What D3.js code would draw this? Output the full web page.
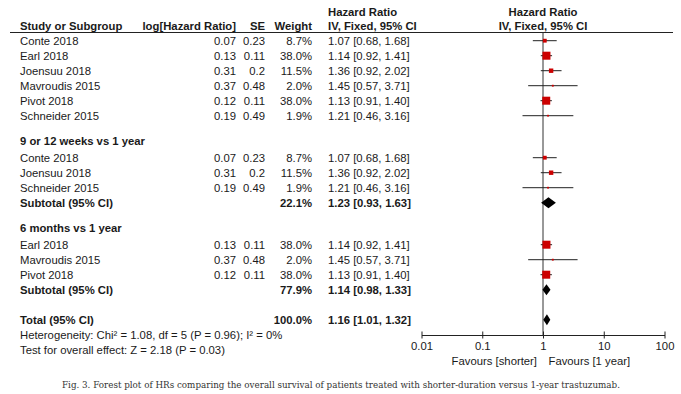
<!DOCTYPE html>
<html>
<head>
<meta charset="utf-8">
<script src="https://cdn.jsdelivr.net/npm/d3@7"></script>
<style>
  body { margin: 0; background: #fff; }
  svg { display: block; }
  text { font-family: "Liberation Sans", Arial, sans-serif; font-size: 11.3px; fill: #1a1a1a; }
  .bold { font-weight: bold; }
  .caption { font-family: "DejaVu Serif", "Liberation Serif", serif; font-size: 9.2px; fill: #333; }
</style>
</head>
<body>
<svg id="chart"></svg>
<script>
const width = 681, height = 394

// study level data
const studies = ["Conte 2018", "Earl 2018", "Joensuu 2018", "Mavroudis 2015", "Pivot 2018", "Schneider 2015"]
const logHR = [0.07, 0.13, 0.31, 0.37, 0.12, 0.19]
const se = [0.23, 0.11, 0.2, 0.48, 0.11, 0.49]
const weights = [8.7, 38.0, 11.5, 2.0, 38.0, 1.9]
const hr = [1.07, 1.14, 1.36, 1.45, 1.13, 1.21]
const lower = [0.68, 0.92, 0.92, 0.57, 0.91, 0.46]
const upper = [1.68, 1.41, 2.02, 3.71, 1.40, 3.16]

// subgroups
const subgroupNames = ["9 or 12 weeks vs 1 year", "6 months vs 1 year"]
const subgroupMembers = [[0, 2, 5], [1, 3, 4]]
const subWeight = [22.1, 77.9]
const subHR = [1.23, 1.14]
const subLower = [0.93, 0.98]
const subUpper = [1.63, 1.33]

// overall
const totalWeight = 100.0, totalHR = 1.16, totalLower = 1.01, totalUpper = 1.32
const heterogeneity = "Heterogeneity: Chi² = 1.08, df = 5 (P = 0.96); I² = 0%"
const overallTest = "Test for overall effect: Z = 2.18 (P = 0.03)"

const axisTicks = [0.01, 0.1, 1, 10, 100]
const favours = ["Favours [shorter]", "Favours [1 year]"]
const caption = "Fig. 3. Forest plot of HRs comparing the overall survival of patients treated with shorter-duration versus 1-year trastuzumab."

// layout
const col = {study: 20, logHR: 236, se: 265, weight: 312, hr: 328}
const rowStep = 15, headGapBefore = 25, headGapAfter = 17, totalGap = 30
const firstRowY = 40.7, headerLineY = 32.5, axisY = 335
const captionWidth = 557
const red = '#cc0000'

const x = d3.scaleLog().domain([0.01, 100]).range([421.5, 664.5])
const boxSize = d3.scaleSqrt().domain([0, 38]).range([0, 8])
const fmt2 = d3.format('.2f'), fmtW = d3.format('.1f')
const ciText = (m, l, u) => `${fmt2(m)} [${fmt2(l)}, ${fmt2(u)}]`

// build the row list
const rows = []
let cy = firstRowY
studies.forEach((s, i) => {
  rows.push({type: 'study', i: i, y: cy})
  cy += rowStep
})
cy -= rowStep
subgroupNames.forEach((name, g) => {
  cy += headGapBefore
  rows.push({type: 'heading', name: name, y: cy})
  cy += headGapAfter
  subgroupMembers[g].forEach(i => {
    rows.push({type: 'study', i: i, y: cy})
    cy += rowStep
  })
  rows.push({type: 'subtotal', g: g, y: cy})
})
cy += totalGap
rows.push({type: 'total', y: cy})

const svg = d3.select('#chart').attr('width', width).attr('height', height)

// header
const header = svg.append('g')
header.append('text').attr('class', 'bold').attr('x', col.hr).attr('y', 16).text('Hazard Ratio')
header.append('text').attr('class', 'bold').attr('x', x(1)).attr('y', 16).attr('text-anchor', 'middle').text('Hazard Ratio')
const h2 = [
  {t: 'Study or Subgroup', x: col.study, a: 'start'},
  {t: 'log[Hazard Ratio]', x: col.logHR, a: 'end'},
  {t: 'SE', x: col.se, a: 'end'},
  {t: 'Weight', x: col.weight, a: 'end'},
  {t: 'IV, Fixed, 95% CI', x: col.hr, a: 'start'},
  {t: 'IV, Fixed, 95% CI', x: x(1), a: 'middle'}
]
header.selectAll('.h2').data(h2).enter().append('text')
  .attr('class', 'bold h2')
  .attr('x', d => d.x).attr('y', 30)
  .attr('text-anchor', d => d.a)
  .text(d => d.t)
header.append('line')
  .attr('x1', 10).attr('x2', 673)
  .attr('y1', headerLineY).attr('y2', headerLineY)
  .attr('stroke', '#222').attr('stroke-width', 1)

// null line
svg.append('line')
  .attr('x1', x(1)).attr('x2', x(1))
  .attr('y1', headerLineY).attr('y2', axisY)
  .attr('stroke', '#333').attr('stroke-width', 1)

// text table
const table = svg.append('g')
rows.forEach(r => {
  const ty = r.y + 4
  const add = (t, xx, anchor, bold) => table.append('text')
    .attr('x', xx).attr('y', ty)
    .attr('text-anchor', anchor)
    .attr('class', bold ? 'bold' : null)
    .text(t)
  if (r.type === 'study') {
    add(studies[r.i], col.study, 'start')
    add(logHR[r.i], col.logHR, 'end')
    add(se[r.i], col.se, 'end')
    add(fmtW(weights[r.i]) + '%', col.weight, 'end')
    add(ciText(hr[r.i], lower[r.i], upper[r.i]), col.hr, 'start')
  } else if (r.type === 'heading') {
    add(r.name, col.study, 'start', true)
  } else if (r.type === 'subtotal') {
    add('Subtotal (95% CI)', col.study, 'start', true)
    add(fmtW(subWeight[r.g]) + '%', col.weight, 'end', true)
    add(ciText(subHR[r.g], subLower[r.g], subUpper[r.g]), col.hr, 'start', true)
  } else {
    add('Total (95% CI)', col.study, 'start', true)
    add(fmtW(totalWeight) + '%', col.weight, 'end', true)
    add(ciText(totalHR, totalLower, totalUpper), col.hr, 'start', true)
    table.append('text').attr('x', col.study).attr('y', ty + 15).text(heterogeneity)
    table.append('text').attr('x', col.study).attr('y', ty + 30).text(overallTest)
  }
})

// study markers
const studyRows = rows.filter(r => r.type === 'study')
const marks = svg.append('g')
marks.selectAll('.ci').data(studyRows).enter().append('line')
  .attr('class', 'ci')
  .attr('x1', d => x(lower[d.i])).attr('x2', d => x(upper[d.i]))
  .attr('y1', d => d.y).attr('y2', d => d.y)
  .attr('stroke', '#222').attr('stroke-width', 1)
marks.selectAll('.box').data(studyRows).enter().append('rect')
  .attr('class', 'box')
  .attr('x', d => x(hr[d.i]) - boxSize(weights[d.i]) / 2)
  .attr('y', d => d.y - boxSize(weights[d.i]) / 2)
  .attr('width', d => boxSize(weights[d.i]))
  .attr('height', d => boxSize(weights[d.i]))
  .attr('fill', red)

// diamonds
const diamondRows = rows.filter(r => r.type === 'subtotal' || r.type === 'total').map(r => r.type === 'total'
  ? {y: r.y, m: totalHR, l: totalLower, u: totalUpper}
  : {y: r.y, m: subHR[r.g], l: subLower[r.g], u: subUpper[r.g]})
marks.selectAll('.diamond').data(diamondRows).enter().append('path')
  .attr('class', 'diamond')
  .attr('d', d => `M${x(d.l)},${d.y}L${x(d.m)},${d.y - 5.5}L${x(d.u)},${d.y}L${x(d.m)},${d.y + 5.5}Z`)
  .attr('fill', '#000')

// axis
const axis = d3.axisBottom(x)
  .tickValues(axisTicks)
  .tickFormat(d3.format('~g'))
  .tickSizeOuter(0)
  .tickSizeInner(3.5)
const axisG = svg.append('g')
  .attr('transform', `translate(0,${axisY})`)
  .call(axis)
axisG.attr('font-family', null).attr('font-size', null)
axisG.select('.domain').attr('stroke', '#222')
axisG.selectAll('.tick line').attr('y1', -3.5).attr('stroke', '#222')
axisG.selectAll('.tick text').style('fill', '#1a1a1a')

svg.append('text').attr('x', x(1) - 6).attr('y', 365).attr('text-anchor', 'end').text(favours[0])
svg.append('text').attr('x', x(1) + 5.5).attr('y', 365).text(favours[1])

// caption, sized to span the same width as in the figure
const cap = svg.append('text')
  .attr('class', 'caption')
  .attr('x', 341).attr('y', 388)
  .attr('text-anchor', 'middle')
  .text(caption)
const capLen = cap.node().getComputedTextLength()
if (capLen > 0) cap.style('font-size', (9.2 * captionWidth / capLen).toFixed(2) + 'px')
</script>
</body>
</html>
